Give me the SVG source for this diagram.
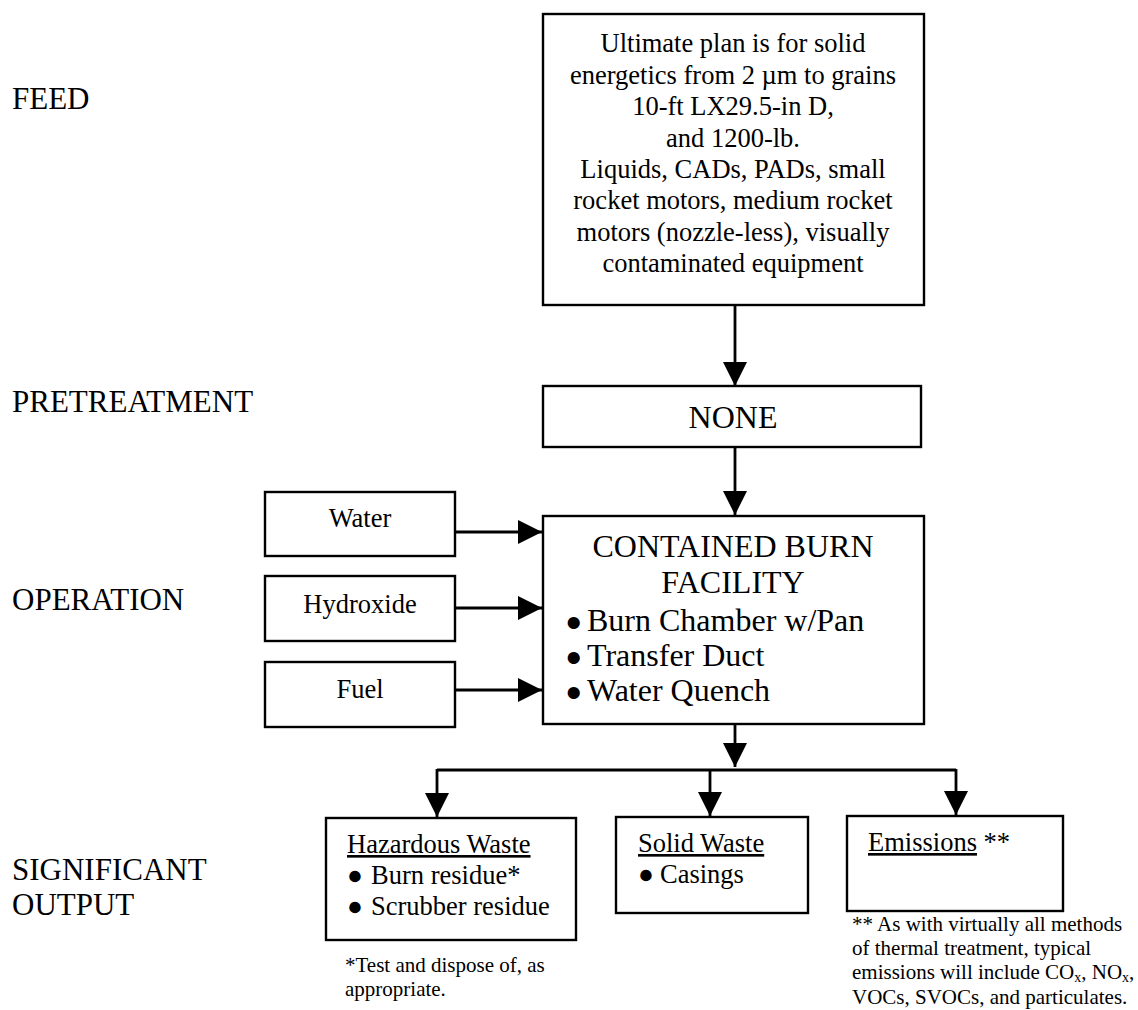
<svg xmlns="http://www.w3.org/2000/svg" width="1138" height="1010" viewBox="0 0 1138 1010">
  <style>
    .box { fill: #fff; stroke: #000; stroke-width: 2.4; }
    .wire { fill: none; stroke: #000; stroke-width: 2.8; }
    text { font-family: "Liberation Serif", "Times New Roman", serif; fill: #000; }
    .stage { font-size: 31px; }
    .feedtxt { font-size: 26.5px; }
    .main { font-size: 32px; }
    .small { font-size: 26.5px; }
    .out { font-size: 26.5px; }
    .note { font-size: 21px; }
    .sub { font-size: 14px; }
    .bul { font-size: 0.88em; }
  </style>
  <defs>
    <marker id="arrow" viewBox="0 0 24 24" refX="24" refY="12" markerWidth="24" markerHeight="24" orient="auto" markerUnits="userSpaceOnUse">
      <path d="M0,0 L24,12 L0,24 Z" fill="#000"/>
    </marker>
  </defs>

  <!-- stage labels down the left margin -->
  <g id="stage-labels" class="stage">
    <text x="12" y="109">FEED</text>
    <text x="12" y="412">PRETREATMENT</text>
    <text x="12" y="610">OPERATION</text>
    <text x="12" y="880">SIGNIFICANT</text>
    <text x="12" y="915">OUTPUT</text>
  </g>

  <g id="feed">
    <rect class="box" x="543" y="14" width="381" height="291"/>
    <g class="feedtxt" text-anchor="middle">
      <text x="733" y="52">Ultimate plan is for solid</text>
      <text x="733" y="83.5">energetics from 2 µm to grains</text>
      <text x="733" y="115">10-ft LX29.5-in D,</text>
      <text x="733" y="146.5">and 1200-lb.</text>
      <text x="733" y="178">Liquids, CADs, PADs, small</text>
      <text x="733" y="209">rocket motors, medium rocket</text>
      <text x="733" y="240.5">motors (nozzle-less), visually</text>
      <text x="733" y="272">contaminated equipment</text>
    </g>
  </g>

  <g id="pretreatment">
    <rect class="box" x="543" y="386" width="378" height="61"/>
    <text class="main" x="733" y="428" text-anchor="middle">NONE</text>
  </g>

  <g id="burn-facility">
    <rect class="box" x="543" y="516" width="381" height="208"/>
    <g class="main">
      <text x="733" y="557" text-anchor="middle">CONTAINED BURN</text>
      <text x="733" y="593" text-anchor="middle">FACILITY</text>
      <text y="631"><tspan class="bul" x="565">●</tspan><tspan x="587">Burn Chamber w/Pan</tspan></text>
      <text y="666"><tspan class="bul" x="565">●</tspan><tspan x="587">Transfer Duct</tspan></text>
      <text y="701"><tspan class="bul" x="565">●</tspan><tspan x="587">Water Quench</tspan></text>
    </g>
  </g>

  <g id="water">
    <rect class="box" x="265" y="492" width="190" height="64"/>
    <text class="small" x="360" y="527" text-anchor="middle">Water</text>
  </g>
  <g id="hydroxide">
    <rect class="box" x="265" y="576" width="190" height="65"/>
    <text class="small" x="360" y="613" text-anchor="middle">Hydroxide</text>
  </g>
  <g id="fuel">
    <rect class="box" x="265" y="662" width="190" height="65"/>
    <text class="small" x="360" y="698" text-anchor="middle">Fuel</text>
  </g>

  <g id="hazardous-waste">
    <rect class="box" x="326" y="818" width="250" height="122"/>
    <g class="out">
      <text x="347" y="853" text-decoration="underline">Hazardous Waste</text>
      <text y="884"><tspan x="347">●</tspan><tspan x="371">Burn residue*</tspan></text>
      <text y="915"><tspan x="347">●</tspan><tspan x="371">Scrubber residue</tspan></text>
    </g>
    <g class="note">
      <text x="345" y="972">*Test and dispose of, as</text>
      <text x="345" y="996">appropriate.</text>
    </g>
  </g>

  <g id="solid-waste">
    <rect class="box" x="616" y="817" width="192" height="96"/>
    <g class="out">
      <text x="638" y="852" text-decoration="underline">Solid Waste</text>
      <text y="883"><tspan x="638">●</tspan><tspan x="660">Casings</tspan></text>
    </g>
  </g>

  <g id="emissions">
    <rect class="box" x="847" y="816" width="216" height="95"/>
    <text class="out" x="868" y="851"><tspan text-decoration="underline">Emissions</tspan> **</text>
    <g class="note">
      <text x="852" y="931">** As with virtually all methods</text>
      <text x="852" y="955">of thermal treatment, typical</text>
      <text x="852" y="979">emissions will include CO<tspan class="sub" baseline-shift="-3">x</tspan>, NO<tspan class="sub" baseline-shift="-3">x</tspan>,</text>
      <text x="852" y="1004">VOCs, SVOCs, and particulates.</text>
    </g>
  </g>

  <!-- connectors -->
  <g id="connectors" class="wire">
    <line x1="735" y1="305" x2="735" y2="386" marker-end="url(#arrow)"/>
    <line x1="735" y1="447" x2="735" y2="515" marker-end="url(#arrow)"/>
    <line x1="455" y1="532" x2="542" y2="532" marker-end="url(#arrow)"/>
    <line x1="455" y1="608" x2="542" y2="608" marker-end="url(#arrow)"/>
    <line x1="455" y1="690" x2="542" y2="690" marker-end="url(#arrow)"/>
    <line x1="735" y1="724" x2="735" y2="767" marker-end="url(#arrow)"/>
    <polyline points="437,770 956,770"/>
    <line x1="437" y1="769" x2="437" y2="817" marker-end="url(#arrow)"/>
    <line x1="710" y1="769" x2="710" y2="816" marker-end="url(#arrow)"/>
    <line x1="956" y1="769" x2="956" y2="815" marker-end="url(#arrow)"/>
  </g>
</svg>
